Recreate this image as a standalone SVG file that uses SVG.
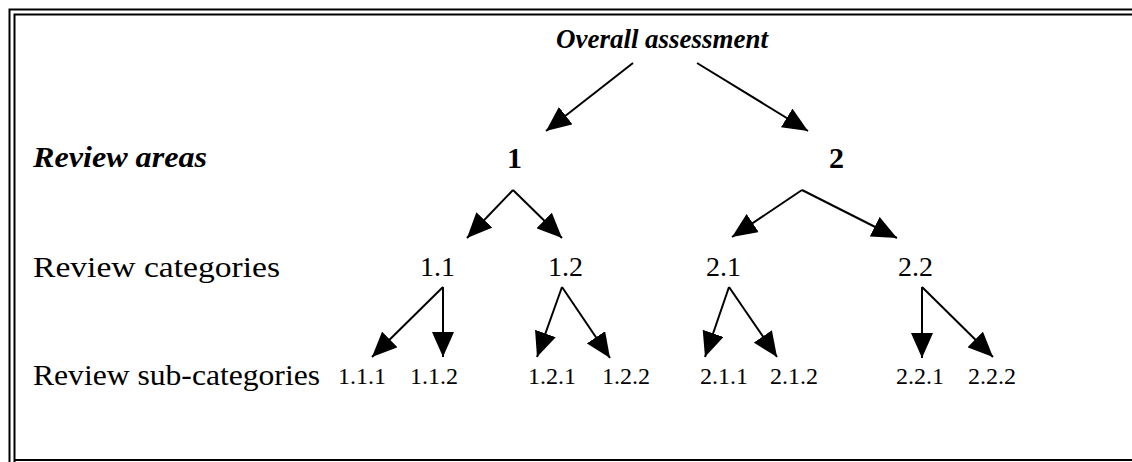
<svg xmlns="http://www.w3.org/2000/svg" width="1132" height="462" viewBox="0 0 1132 462">
<style>
.t{font-family:"Liberation Serif","Times New Roman",serif;fill:#000}
.bi{font-weight:bold;font-style:italic}
.b{font-weight:bold}
.c{stroke:#000;stroke-width:2;fill:none}
.f{stroke:#000;stroke-width:2;fill:none}
</style>
<defs>
<marker id="ah" markerUnits="userSpaceOnUse" markerWidth="26" markerHeight="22" refX="25" refY="11" orient="auto">
<path d="M0,0 L25,11 L0,22 Z" fill="#000"/>
</marker>
</defs>
<rect width="1132" height="462" fill="#fff"/>
<g id="frame">
<path class="f" d="M9.5,462 V9.5 H1132"/>
<path class="f" d="M14.5,462 V14.5 H1132"/>
<path class="f" d="M14.5,460 H1132"/>
</g>
<g id="row-labels">
<text class="t bi" x="33" y="167" font-size="30" textLength="174" lengthAdjust="spacingAndGlyphs">Review areas</text>
<text class="t" x="33" y="277" font-size="30" textLength="247" lengthAdjust="spacingAndGlyphs">Review categories</text>
<text class="t" x="33" y="385" font-size="30" textLength="287" lengthAdjust="spacingAndGlyphs">Review sub-categories</text>
</g>
<g id="n-root"><text class="t bi" x="556" y="48" font-size="28" textLength="212" lengthAdjust="spacingAndGlyphs">Overall assessment</text></g>
<g id="n-1"><text class="t b" x="507" y="168" font-size="30">1</text></g>
<g id="n-2"><text class="t b" x="829" y="168" font-size="30">2</text></g>
<g id="n-1-1"><text class="t" x="420" y="276" font-size="28">1.1</text></g>
<g id="n-1-2"><text class="t" x="548" y="276" font-size="28">1.2</text></g>
<g id="n-2-1"><text class="t" x="706" y="276" font-size="28">2.1</text></g>
<g id="n-2-2"><text class="t" x="898" y="276" font-size="28">2.2</text></g>
<g id="n-1-1-1"><text class="t" x="338" y="384" font-size="24">1.1.1</text></g>
<g id="n-1-1-2"><text class="t" x="410" y="384" font-size="24">1.1.2</text></g>
<g id="n-1-2-1"><text class="t" x="528" y="384" font-size="24">1.2.1</text></g>
<g id="n-1-2-2"><text class="t" x="602" y="384" font-size="24">1.2.2</text></g>
<g id="n-2-1-1"><text class="t" x="700" y="384" font-size="24">2.1.1</text></g>
<g id="n-2-1-2"><text class="t" x="770" y="384" font-size="24">2.1.2</text></g>
<g id="n-2-2-1"><text class="t" x="896" y="384" font-size="24">2.2.1</text></g>
<g id="n-2-2-2"><text class="t" x="968" y="384" font-size="24">2.2.2</text></g>
<g id="connectors" class="c" marker-end="url(#ah)">
<line x1="633" y1="63" x2="546" y2="131"/>
<line x1="697" y1="63" x2="808" y2="131"/>
<line x1="513" y1="190" x2="467" y2="238"/>
<line x1="513" y1="190" x2="562" y2="238"/>
<line x1="802" y1="190" x2="732" y2="237"/>
<line x1="802" y1="190" x2="897" y2="238"/>
<line x1="443" y1="287" x2="372" y2="357"/>
<line x1="443" y1="287" x2="443" y2="357"/>
<line x1="562" y1="287" x2="537" y2="357"/>
<line x1="562" y1="287" x2="610" y2="358"/>
<line x1="729" y1="287" x2="705" y2="357"/>
<line x1="729" y1="287" x2="777" y2="357"/>
<line x1="922" y1="287" x2="922" y2="358"/>
<line x1="922" y1="287" x2="993" y2="357"/>
</g>
</svg>
